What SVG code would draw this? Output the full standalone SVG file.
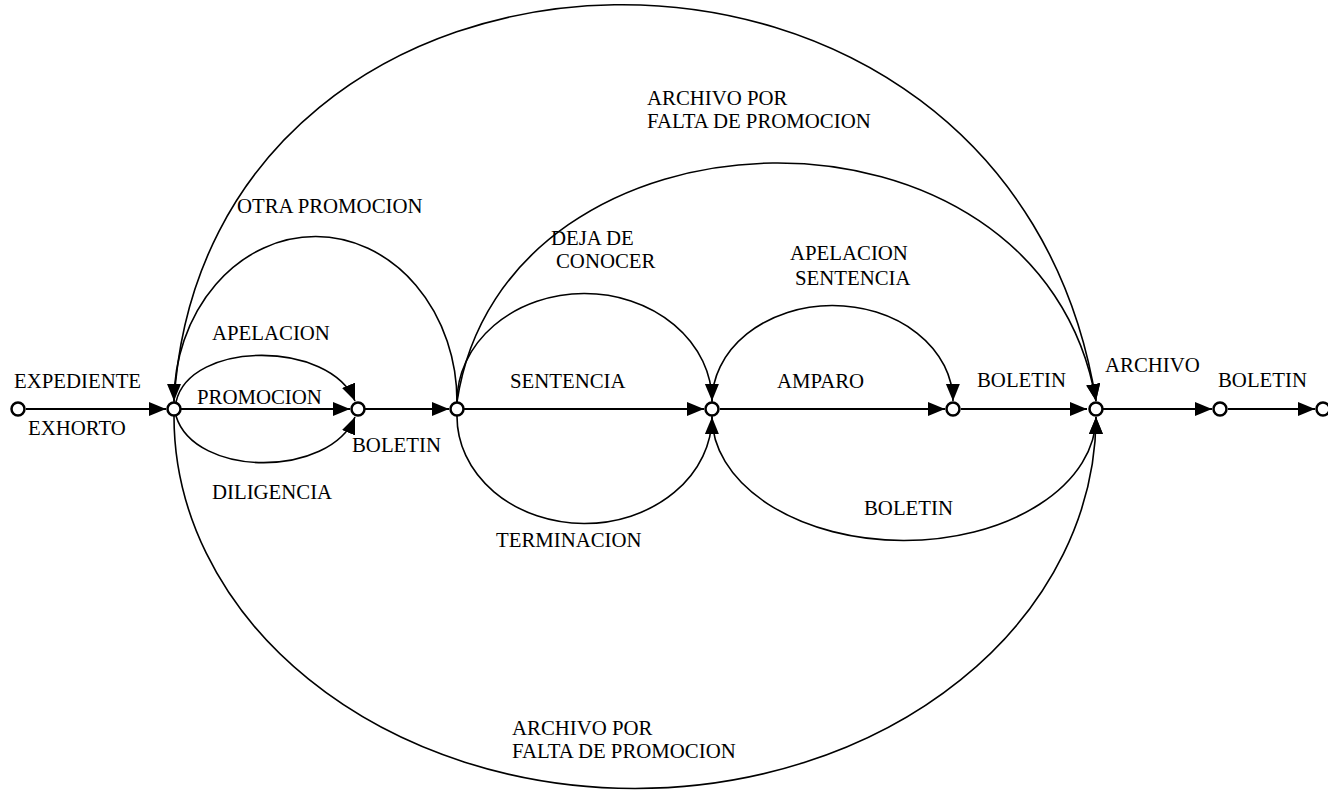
<svg xmlns="http://www.w3.org/2000/svg" width="1328" height="790" viewBox="0 0 1328 790">
  <style>
    .edge { fill: none; stroke: #000; stroke-width: 2; }
    .arc { fill: none; stroke: #000; stroke-width: 1.6; }
    .node { fill: #fff; stroke: #000; stroke-width: 2.5; }
    .lbl { font-size: 20.8px; fill: #000; }
  </style>
  <defs>
    <marker id="arrow" markerUnits="userSpaceOnUse" markerWidth="18" markerHeight="15" refX="17" refY="7" orient="auto">
      <path d="M0,0 L17,7 L0,14 z" fill="#000"/>
    </marker>
  </defs>

  <rect width="1328" height="790" fill="#fff"/>

  <!-- connectors -->
  <g id="connectors">
    <!-- main straight sequence -->
    <line class="edge" x1="26" y1="409" x2="166" y2="409" marker-end="url(#arrow)"/>
    <line class="edge" x1="181" y1="409" x2="350" y2="409" marker-end="url(#arrow)"/>
    <line class="edge" x1="365" y1="409" x2="449" y2="409" marker-end="url(#arrow)"/>
    <line class="edge" x1="464" y1="409" x2="704" y2="409" marker-end="url(#arrow)"/>
    <line class="edge" x1="720" y1="409" x2="945" y2="409" marker-end="url(#arrow)"/>
    <line class="edge" x1="961" y1="409" x2="1087" y2="409" marker-end="url(#arrow)"/>
    <line class="edge" x1="1103" y1="409" x2="1212" y2="409" marker-end="url(#arrow)"/>
    <line class="edge" x1="1228" y1="409" x2="1315" y2="409" marker-end="url(#arrow)"/>

    <!-- upper arcs -->
    <path class="arc" d="M174,402 C205,-115 1010,-140 1096,401" marker-end="url(#arrow)"/>
    <path class="arc" d="M457,402 C503,90 1040,77 1096,401" marker-end="url(#arrow)"/>
    <path class="arc" d="M457,402 A141.5,165 0 0 0 174,401" marker-end="url(#arrow)"/>
    <path class="arc" d="M176,402 C190,340 330,340 355,401" marker-end="url(#arrow)"/>
    <path class="arc" d="M457,402 A127.5,108 0 0 1 712,401" marker-end="url(#arrow)"/>
    <path class="arc" d="M712,402 A120.5,96 0 0 1 953,401" marker-end="url(#arrow)"/>

    <!-- lower arcs -->
    <path class="arc" d="M174,416 A461,372 0 0 0 1096,417" marker-end="url(#arrow)"/>
    <path class="arc" d="M176,416 C195,478 330,478 355,417" marker-end="url(#arrow)"/>
    <path class="arc" d="M457,416 A127.5,107 0 0 0 712,417" marker-end="url(#arrow)"/>
    <path class="arc" d="M712,416 A192,124 0 0 0 1096,417" marker-end="url(#arrow)"/>
  </g>

  <!-- states -->
  <g id="n0"><circle class="node" cx="18" cy="409" r="6.5"/></g>
  <g id="n1"><circle class="node" cx="174" cy="409" r="6.5"/></g>
  <g id="n2"><circle class="node" cx="358" cy="409" r="6.5"/></g>
  <g id="n3"><circle class="node" cx="457" cy="409" r="6.5"/></g>
  <g id="n4"><circle class="node" cx="712" cy="409" r="6.5"/></g>
  <g id="n5"><circle class="node" cx="953" cy="409" r="6.5"/></g>
  <g id="n6"><circle class="node" cx="1096" cy="409" r="6.5"/></g>
  <g id="n7"><circle class="node" cx="1220" cy="409" r="6.5"/></g>
  <g id="n8"><circle class="node" cx="1323" cy="409" r="6.5"/></g>

  <!-- labels -->
  <g id="labels" font-family="Liberation Serif, DejaVu Serif, serif">
    <text class="lbl" x="14" y="388">EXPEDIENTE</text>
    <text class="lbl" x="28" y="435">EXHORTO</text>
    <text class="lbl" x="197" y="404">PROMOCION</text>
    <text class="lbl" x="212" y="340">APELACION</text>
    <text class="lbl" x="212" y="499">DILIGENCIA</text>
    <text class="lbl" x="352" y="452">BOLETIN</text>
    <text class="lbl" x="237" y="213">OTRA PROMOCION</text>
    <text class="lbl" x="647" y="105">ARCHIVO POR</text>
    <text class="lbl" x="647" y="128">FALTA DE PROMOCION</text>
    <text class="lbl" x="551" y="245">DEJA DE</text>
    <text class="lbl" x="556" y="268">CONOCER</text>
    <text class="lbl" x="510" y="388">SENTENCIA</text>
    <text class="lbl" x="790" y="260">APELACION</text>
    <text class="lbl" x="795" y="285">SENTENCIA</text>
    <text class="lbl" x="777" y="388">AMPARO</text>
    <text class="lbl" x="977" y="387">BOLETIN</text>
    <text class="lbl" x="1105" y="372">ARCHIVO</text>
    <text class="lbl" x="1218" y="387">BOLETIN</text>
    <text class="lbl" x="496" y="547">TERMINACION</text>
    <text class="lbl" x="864" y="515">BOLETIN</text>
    <text class="lbl" x="512" y="735">ARCHIVO POR</text>
    <text class="lbl" x="512" y="758">FALTA DE PROMOCION</text>
  </g>
</svg>
